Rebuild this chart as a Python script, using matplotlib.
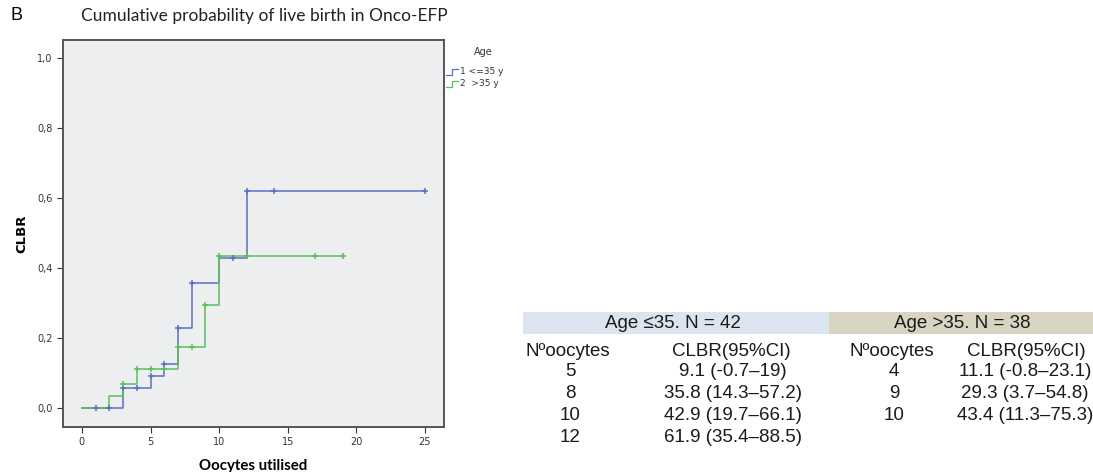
import matplotlib
matplotlib.use("Agg")
import matplotlib.pyplot as plt
from matplotlib.ticker import FuncFormatter

# Kaplan-Meier style step data (x = oocytes utilised, y = CLBR)
young_x = [0, 3, 5, 6, 7, 8, 10, 12, 25]
young_y = [0.0, 0.057, 0.091, 0.127, 0.230, 0.358, 0.429, 0.619, 0.619]
young_cens_x = [1, 2, 3, 4, 5, 6, 7, 8, 11, 12, 14, 25]

old_x = [0, 2, 3, 4, 7, 9, 10, 19]
old_y = [0.0, 0.035, 0.068, 0.111, 0.175, 0.293, 0.434, 0.434]
old_cens_x = [3, 4, 5, 6, 7, 8, 9, 10, 12, 17, 19]

x_ticks = [0, 5, 10, 15, 20, 25]
y_ticks = [0.0, 0.2, 0.4, 0.6, 0.8, 1.0]

legend_labels = ["1 <=35 y", "2  >35 y"]

table_left_header = "Age \u226435. N = 42"
table_right_header = "Age >35. N = 38"
col_headers = ["N\u00baoocytes", "CLBR(95%CI)"]
left_oocytes = ["5", "8", "10", "12"]
left_clbr = ["9.1 (-0.7\u201319)", "35.8 (14.3\u201357.2)", "42.9 (19.7\u201366.1)", "61.9 (35.4\u201388.5)"]
right_oocytes = ["4", "9", "10"]
right_clbr = ["11.1 (-0.8\u201323.1)", "29.3 (3.7\u201354.8)", "43.4 (11.3\u201375.3)"]

BLUE = "#5b70c4"
GREEN = "#5cbf5c"


def y_at(xs, ys, x):
    val = ys[0]
    for xi, yi in zip(xs, ys):
        if xi <= x:
            val = yi
    return val


fig = plt.figure(figsize=(10.93, 4.72), dpi=100)
fig.patch.set_facecolor("white")
ax = fig.add_axes([63 / 1093, 1 - 427 / 472, 381 / 1093, 387 / 472])
ax.set_facecolor("#eceef0")

ax.step(young_x, young_y, where="post", color=BLUE, lw=1.1)
ax.step(old_x, old_y, where="post", color=GREEN, lw=1.1)
ax.plot(young_cens_x, [y_at(young_x, young_y, c) for c in young_cens_x], "+",
        color=BLUE, ms=5, mew=1.1)
ax.plot(old_cens_x, [y_at(old_x, old_y, c) for c in old_cens_x], "+",
        color=GREEN, ms=5, mew=1.1)

ax.set_xlim(-1.38, 26.4)
ax.set_ylim(-0.054, 1.051)
ax.set_xticks(x_ticks)
ax.set_yticks(y_ticks)
ax.yaxis.set_major_formatter(FuncFormatter(lambda v, p: f"{v:.1f}".replace(".", ",")))
ax.tick_params(labelsize=7, colors="#333333", length=4, width=0.8)
for s in ax.spines.values():
    s.set_color("#555555")
    s.set_linewidth(1.4)

ax.set_ylabel("CLBR", fontsize=9.5, fontweight="bold", labelpad=6)
ax.set_xlabel("Oocytes utilised", fontsize=10.8, fontweight="bold", family="Lato", labelpad=8)

fig.text(10 / 1093, 1 - 16 / 472, "B", fontsize=13, family="Liberation Sans", va="center", ha="left")
fig.text(264 / 1093, 1 - 16 / 472, "Cumulative probability of live birth in Onco-EFP",
         fontsize=12.5, family="Lato", va="center", ha="center", color="#222222")

# legend
fig.text(483 / 1093, 1 - 52 / 472, "Age", fontsize=7, ha="center", va="center", color="#333333")
for i, (lab, col) in enumerate(zip(legend_labels, [BLUE, GREEN])):
    yy = 1 - (72 + i * 12) / 472
    lx = [446 / 1093, 452 / 1093, 453 / 1093, 458 / 1093]
    h = 3 / 472
    fig.add_artist(plt.Line2D([lx[0], lx[1], lx[1], lx[3]], [yy - h, yy - h, yy + h, yy + h],
                              color=col, lw=0.9, transform=fig.transFigure))
    fig.text(460 / 1093, yy, lab, fontsize=6.5, va="center", ha="left", color="#333333")

# table
tf = "Liberation Sans"
fig.add_artist(plt.Rectangle((523 / 1093, 1 - 334 / 472), (829 - 523) / 1093, 22 / 472,
                             transform=fig.transFigure, color="#dbe5f0", lw=0))
fig.add_artist(plt.Rectangle((829 / 1093, 1 - 334 / 472), (1093 - 829) / 1093, 22 / 472,
                             transform=fig.transFigure, color="#d8d4c2", lw=0))
fs = 13.5
tc = "#1a1a1a"
kw = dict(fontsize=fs, family=tf, ha="center", va="center", color=tc)
fig.text(673 / 1093, 1 - 323 / 472, table_left_header, **kw)
fig.text(962 / 1093, 1 - 323 / 472, table_right_header, **kw)
row_y = [351, 372, 394, 416, 438]
fig.text(568 / 1093, 1 - row_y[0] / 472, col_headers[0], **kw)
fig.text(731 / 1093, 1 - row_y[0] / 472, col_headers[1], **kw)
fig.text(892 / 1093, 1 - row_y[0] / 472, col_headers[0], **kw)
fig.text(1026 / 1093, 1 - row_y[0] / 472, col_headers[1], **kw)
for i, (o, c) in enumerate(zip(left_oocytes, left_clbr)):
    fig.text(570 / 1093, 1 - row_y[i + 1] / 472, o, **kw)
    fig.text(733 / 1093, 1 - row_y[i + 1] / 472, c, **kw)
for i, (o, c) in enumerate(zip(right_oocytes, right_clbr)):
    fig.text(894 / 1093, 1 - row_y[i + 1] / 472, o, **kw)
    fig.text(1025 / 1093, 1 - row_y[i + 1] / 472, c, **kw)

fig.savefig("out.png", dpi=100)
